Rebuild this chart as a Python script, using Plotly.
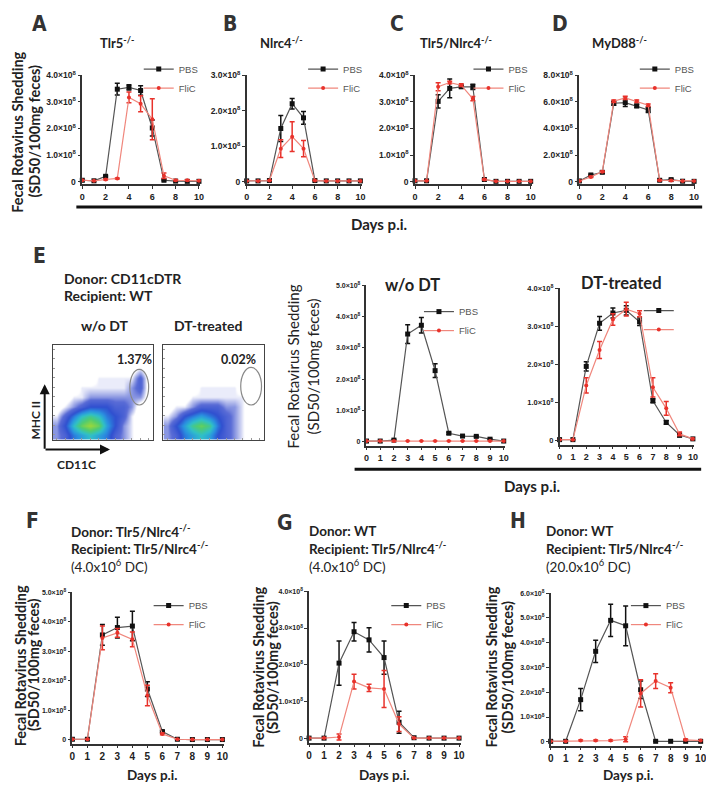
import plotly.graph_objects as go

W, H = 714, 790
days = list(range(11))

# values in units of 1e8 SD50/100mg feces
# A  Tlr5-/-
a_pbs = [0.05, 0.03, 0.2, 3.48, 3.55, 3.43, 2.02, 0.05, 0.02, 0.01, 0.01]
a_pbs_err = [0, 0, 0.03, 0.22, 0.1, 0.18, 0.3, 0.02, 0, 0, 0]
a_flic = [0.05, 0.03, 0.08, 0.12, 3.17, 2.93, 2.35, 0.22, 0.05, 0.05, 0.03]
a_flic_err = [0, 0, 0.02, 0.02, 0.2, 0.3, 0.77, 0.1, 0.02, 0.02, 0.01]
# B  Nlrc4-/-
b_pbs = [0.02, 0.02, 0.03, 1.5, 2.2, 1.8, 0.03, 0.02, 0.02, 0.02, 0.02]
b_pbs_err = [0, 0, 0, 0.37, 0.15, 0.18, 0, 0, 0, 0, 0]
b_flic = [0.02, 0.02, 0.03, 0.93, 1.27, 0.93, 0.03, 0.02, 0.02, 0.02, 0.02]
b_flic_err = [0, 0, 0, 0.25, 0.42, 0.23, 0, 0, 0, 0, 0]
# C  Tlr5/Nlrc4-/-
c_pbs = [0.03, 0.03, 3.02, 3.51, 3.57, 3.57, 0.08, 0.01, 0.01, 0.01, 0.01]
c_pbs_err = [0, 0, 0.25, 0.35, 0.05, 0.1, 0.02, 0, 0, 0, 0]
c_flic = [0.03, 0.03, 3.57, 3.73, 3.63, 3.12, 0.08, 0.01, 0.01, 0.01, 0.01]
c_flic_err = [0, 0, 0.15, 0.05, 0.05, 0.08, 0.02, 0, 0, 0, 0]
# D  MyD88-/-
d_pbs = [0.05, 0.5, 0.7, 5.9, 5.95, 5.7, 5.4, 0.1, 0.15, 0.03, 0.02]
d_pbs_err = [0, 0.05, 0.08, 0.15, 0.3, 0.12, 0.2, 0.05, 0.05, 0, 0]
d_flic = [0.05, 0.35, 0.75, 6.05, 6.3, 6.05, 5.75, 0.1, 0.08, 0.05, 0.05]
d_flic_err = [0, 0.05, 0.05, 0.1, 0.12, 0.1, 0.1, 0.03, 0.03, 0, 0]
# E  w/o DT
e1_pbs = [0.02, 0.02, 0.05, 3.44, 3.72, 2.27, 0.27, 0.18, 0.17, 0.08, 0.02]
e1_pbs_err = [0, 0, 0.02, 0.3, 0.25, 0.22, 0.03, 0.02, 0.02, 0.02, 0]
e1_flic = [0.02, 0.02, 0.02, 0.02, 0.02, 0.02, 0.02, 0.02, 0.02, 0.02, 0.02]
e1_flic_err = [0] * 11
# E  DT-treated
e2_pbs = [0.03, 0.03, 1.95, 3.08, 3.35, 3.42, 3.12, 1.05, 0.48, 0.15, 0.05]
e2_pbs_err = [0, 0, 0.12, 0.18, 0.13, 0.12, 0.1, 0.05, 0.05, 0.05, 0.02]
e2_flic = [0.03, 0.03, 1.45, 2.38, 3.18, 3.45, 3.33, 1.4, 0.85, 0.18, 0.05]
e2_flic_err = [0, 0, 0.2, 0.22, 0.15, 0.18, 0.08, 0.25, 0.18, 0.05, 0.02]
# F  donor Tlr5/Nlrc4-/- -> recipient Tlr5/Nlrc4-/-
f_pbs = [0.02, 0.02, 3.55, 3.8, 3.85, 1.72, 0.28, 0.02, 0.01, 0.01, 0.01]
f_pbs_err = [0, 0, 0.35, 0.35, 0.5, 0.25, 0.03, 0, 0, 0, 0]
f_flic = [0.02, 0.02, 3.45, 3.62, 3.4, 1.5, 0.2, 0.02, 0.01, 0.01, 0.01]
f_flic_err = [0, 0, 0.4, 0.15, 0.25, 0.35, 0.03, 0, 0, 0, 0]
# G  donor WT -> recipient Tlr5/Nlrc4-/- (4.0x10^6 DC)
g_pbs = [0.02, 0.02, 2.05, 2.9, 2.68, 2.2, 0.45, 0.03, 0.02, 0.02, 0.02]
g_pbs_err = [0, 0, 0.6, 0.25, 0.33, 0.45, 0.3, 0, 0, 0, 0]
g_flic = [0.02, 0.02, 0.05, 1.55, 1.38, 1.35, 0.4, 0.02, 0.02, 0.02, 0.02]
g_flic_err = [0, 0, 0.08, 0.2, 0.1, 0.5, 0.2, 0, 0, 0, 0]
# H  donor WT -> recipient Tlr5/Nlrc4-/- (20.0x10^6 DC)
h_pbs = [0.02, 0.02, 1.7, 3.65, 4.9, 4.68, 2.1, 0.02, 0.02, 0.02, 0.02]
h_pbs_err = [0, 0, 0.45, 0.45, 0.65, 0.8, 0.35, 0, 0, 0, 0]
h_flic = [0.02, 0.02, 0.05, 0.05, 0.05, 0.1, 1.95, 2.45, 2.18, 0.08, 0.05]
h_flic_err = [0, 0, 0.02, 0.02, 0.02, 0.1, 0.55, 0.3, 0.2, 0.03, 0]

# flow cytometry density (CD11C x MHC II), rows bottom -> top
flow_wo_dt = [
    [2, 3, 5, 6, 7, 6, 5, 3, 2, 1, 0, 0],
    [2, 4, 7, 9, 10, 9, 6, 4, 2, 1, 0, 0],
    [1, 3, 5, 7, 8, 7, 5, 4, 3, 1, 0, 0],
    [0, 1, 2, 3, 4, 4, 4, 3, 3, 2, 0, 0],
    [0, 0, 1, 1, 2, 2, 2, 2, 2, 2, 2, 0],
    [0, 0, 0, 1, 1, 1, 1, 1, 1, 2, 3, 0],
    [0, 0, 0, 0, 0, 1, 1, 1, 1, 1, 3, 0],
    [0, 0, 0, 0, 0, 0, 0, 0, 0, 0, 1, 0],
    [0, 0, 0, 0, 0, 0, 0, 0, 0, 0, 0, 0],
    [0, 0, 0, 0, 0, 0, 0, 0, 0, 0, 0, 0],
]
flow_dt = [
    [2, 3, 5, 6, 7, 6, 4, 3, 2, 1, 0, 0],
    [2, 4, 6, 8, 9, 8, 5, 3, 2, 1, 0, 0],
    [1, 2, 4, 5, 6, 5, 4, 3, 2, 1, 0, 0],
    [0, 1, 1, 2, 3, 3, 3, 2, 2, 1, 0, 0],
    [0, 0, 0, 1, 1, 1, 1, 1, 1, 1, 0, 0],
    [0, 0, 0, 0, 1, 1, 1, 1, 1, 0, 0, 0],
    [0, 0, 0, 0, 0, 0, 0, 0, 0, 0, 0, 0],
    [0, 0, 0, 0, 0, 0, 0, 0, 0, 0, 0, 0],
    [0, 0, 0, 0, 0, 0, 0, 0, 0, 0, 0, 0],
    [0, 0, 0, 0, 0, 0, 0, 0, 0, 0, 0, 0],
]

BLACK = "#111111"
RED = "#e8322b"
AX = "#333333"
SANS = "Liberation Sans"
HUM = "Lato"
OFF = 8  # the page body adds an 8px margin


def PX(x):
    return (x - OFF) / W


def PY(y):
    return 1 - (y - OFF) / H


# panel: data, pixel box, y max, y step, x tick step, legend pos, tick font sizes
panels = [
    dict(pbs=a_pbs, pe=a_pbs_err, fl=a_flic, fe=a_flic_err, box=(80, 199, 70, 180), ymax=4, step=1, xs=2, leg=(137, 49), names=True, xfs=9, yfs=8.5),
    dict(pbs=b_pbs, pe=b_pbs_err, fl=b_flic, fe=b_flic_err, box=(246, 362, 70, 180), ymax=3, step=1, xs=2, leg=(303, 49), names=True, xfs=9, yfs=8.5),
    dict(pbs=c_pbs, pe=c_pbs_err, fl=c_flic, fe=c_flic_err, box=(416, 534, 70, 180), ymax=4, step=1, xs=2, leg=(470, 49), names=True, xfs=9, yfs=8.5),
    dict(pbs=d_pbs, pe=d_pbs_err, fl=d_flic, fe=d_flic_err, box=(582, 699, 70, 180), ymax=8, step=2, xs=2, leg=(638, 49), names=True, xfs=9, yfs=8.5),
    dict(pbs=e1_pbs, pe=e1_pbs_err, fl=e1_flic, fe=e1_flic_err, box=(367, 507, 282, 444), ymax=5, step=1, xs=1, leg=(420, 294), names=True, xfs=9, yfs=7),
    dict(pbs=e2_pbs, pe=e2_pbs_err, fl=e2_flic, fe=e2_flic_err, box=(562, 698, 285, 443), ymax=4, step=1, xs=1, leg=(642, 293), names=False, xfs=9, yfs=7.5),
    dict(pbs=f_pbs, pe=f_pbs_err, fl=f_flic, fe=f_flic_err, box=(70, 223, 592, 745), ymax=5, step=1, xs=1, leg=(147, 591), names=True, xfs=10, yfs=7),
    dict(pbs=g_pbs, pe=g_pbs_err, fl=g_flic, fe=g_flic_err, box=(309, 462, 591, 744), ymax=4, step=1, xs=1, leg=(387, 591), names=True, xfs=10, yfs=7),
    dict(pbs=h_pbs, pe=h_pbs_err, fl=h_flic, fe=h_flic_err, box=(553, 706, 593, 747), ymax=6, step=1, xs=1, leg=(629, 591), names=True, xfs=10, yfs=7),
]

fig = go.Figure()
layout = {}

for i, p in enumerate(panels):
    n = i + 1
    sx = "" if n == 1 else str(n)
    leg = "legend" if n == 1 else f"legend{n}"
    x0, x1, y0, y1 = p["box"]
    for vals, errs, color, lcolor, sym, size, name in [
        (p["pbs"], p["pe"], BLACK, "#555555", "square", 5, "PBS"),
        (p["fl"], p["fe"], RED, "#f0877d", "circle", 4, "FliC"),
    ]:
        fig.add_trace(go.Scatter(
            x=days, y=vals, mode="lines+markers",
            name=name if p["names"] else " ",
            line=dict(color=lcolor, width=1.2),
            marker=dict(color=color, symbol=sym, size=size),
            error_y=dict(type="data", array=errs, color=color, thickness=1.5, width=2.5),
            xaxis="x" + sx, yaxis="y" + sx, legend=leg, cliponaxis=False,
        ))
    ymax = p["ymax"]
    yt = list(range(0, ymax + 1, p["step"]))
    ytext = ["0" if v == 0 else f"{v:.1f}×10<sup>8</sup>" for v in yt]
    layout["xaxis" + sx] = dict(
        domain=[PX(x0), PX(x1)], range=[0, 10.1], anchor="y" + sx,
        tickvals=list(range(0, 11, p["xs"])), ticks="outside", ticklen=3,
        tickwidth=1.2, tickcolor=AX, showline=True, linecolor=AX, linewidth=1.5,
        showgrid=False, zeroline=False,
        tickfont=dict(family=SANS, size=p["xfs"], color="#222", weight="bold"),
    )
    layout["yaxis" + sx] = dict(
        domain=[PY(y1), PY(y0)], range=[-ymax * 0.025, ymax], anchor="x" + sx,
        tickvals=yt, ticktext=ytext, ticks="outside", ticklen=3, tickwidth=1.2,
        tickcolor=AX, showline=True, linecolor=AX, linewidth=1.5,
        showgrid=False, zeroline=False,
        tickfont=dict(family=SANS, size=p["yfs"], color="#222", weight="bold"),
    )
    lx, ly = p["leg"]
    layout[leg] = dict(
        x=PX(lx), y=PY(ly), xanchor="left", yanchor="top",
        bgcolor="rgba(0,0,0,0)", borderwidth=0, itemwidth=30,
        font=dict(family=SANS, size=9.5, color="#555"),
    )

# flow cytometry panels
flow_cs = [
    [0.0, "#ffffff"], [0.08, "#ffffff"], [0.12, "#d4d8f4"], [0.25, "#5a6cd6"],
    [0.4, "#3050d0"], [0.55, "#2a90e0"], [0.7, "#30c0c8"], [0.85, "#50cc70"],
    [1.0, "#9cd83a"],
]
for k, (z, box) in enumerate([(flow_wo_dt, (50, 151, 342, 438)), (flow_dt, (162, 263, 342, 438))]):
    n = 10 + k
    fig.add_trace(go.Heatmap(
        z=z, colorscale=flow_cs, zmin=0, zmax=10, zsmooth="best",
        showscale=False, xaxis=f"x{n}", yaxis=f"y{n}", hoverinfo="skip",
    ))
    x0, x1, y0, y1 = box
    common = dict(showline=True, mirror=True, linecolor="#444", linewidth=1,
                  showgrid=False, zeroline=False, showticklabels=False,
                  ticks="inside", ticklen=2, tickcolor="#999")
    layout[f"xaxis{n}"] = dict(domain=[PX(x0), PX(x1)], range=[-0.5, 11.5],
                               anchor=f"y{n}", dtick=1, **common)
    layout[f"yaxis{n}"] = dict(domain=[PY(y1), PY(y0)], range=[-0.5, 9.5],
                               anchor=f"x{n}", dtick=1, **common)

shapes = [
    dict(type="line", xref="paper", yref="paper", x0=PX(74), x1=PX(706),
         y0=PY(203), y1=PY(203), line=dict(color="#111", width=3)),
    dict(type="line", xref="paper", yref="paper", x0=PX(355), x1=PX(705),
         y0=PY(468), y1=PY(468), line=dict(color="#111", width=3)),
    dict(type="circle", xref="paper", yref="paper", x0=PX(128), x1=PX(147),
         y0=PY(403), y1=PY(367), line=dict(color="#888", width=1.2)),
    dict(type="circle", xref="paper", yref="paper", x0=PX(240), x1=PX(261),
         y0=PY(403), y1=PY(365), line=dict(color="#888", width=1.2)),
]

ann = []


def text(s, x, y, size, family=HUM, bold=False, anchor="center", angle=0, color="#222"):
    ann.append(dict(
        text=f"<b>{s}</b>" if bold else s, x=PX(x), y=PY(y), xref="paper", yref="paper",
        xanchor=anchor, yanchor="middle", showarrow=False, textangle=angle,
        font=dict(family=family, size=size, color=color),
    ))


LETTER = "DejaVu Sans Condensed"
for s, x, y in [("A", 37, 18), ("B", 229, 18), ("C", 398, 18), ("D", 562, 18),
                ("E", 37, 252), ("F", 30, 520), ("G", 285, 522), ("H", 520, 520)]:
    text(s, x, y, 21, family=LETTER, bold=True, color="#333")

text("Tlr5<sup>-/-</sup>", 115, 37, 13, bold=True)
text("Nlrc4<sup>-/-</sup>", 281, 37, 13, bold=True)
text("Tlr5/Nlrc4<sup>-/-</sup>", 457, 37, 13, bold=True)
text("MyD88<sup>-/-</sup>", 623, 37, 13, bold=True)

ylab1 = "Fecal Rotavirus Shedding"
ylab2 = "(SD50/100mg feces)"
# (x of line 1, x of line 2, y centre, size, bold)
for xa, xb, yc, fs, bold in [(15, 32, 127, 14.5, True), (293, 313, 364, 15, False),
                              (17, 31, 666, 14.5, True), (258, 272, 668, 14.5, True),
                              (493, 509, 668, 14.5, True)]:
    text(ylab1, xa, yc, fs, bold=bold, angle=-90)
    text(ylab2, xb, yc, fs, bold=bold, angle=-90)

text("Days p.i.", 380, 220, 15, bold=True)
text("Days p.i.", 534, 485, 15, bold=True)
text("Days p.i.", 150, 777, 13.5, bold=True)
text("Days p.i.", 385, 777, 13.5, bold=True)
text("Days p.i.", 631, 777, 13.5, bold=True)

text("Donor: CD11cDTR", 60, 275, 14, bold=True, anchor="left")
text("Recipient: WT", 60, 292, 14, bold=True, anchor="left")
text("w/o DT", 102, 323, 14, bold=True)
text("DT-treated", 207, 323, 14, bold=True)
text("1.37%", 133, 357, 12.5, bold=True)
text("0.02%", 238, 357, 12.5, bold=True)
text("MHC II", 33, 418, 12, bold=True, angle=-90)
text("CD11C", 74, 463, 12, bold=True)
text("w/o DT", 413, 282, 16.5, bold=True)
text("DT-treated", 625, 280, 16.5, bold=True)

for x, lines in [(67, ["Tlr5/Nlrc4<sup>-/-</sup>", "Tlr5/Nlrc4<sup>-/-</sup>", "4.0x10<sup>6</sup>"]),
                 (307, ["WT", "Tlr5/Nlrc4<sup>-/-</sup>", "4.0x10<sup>6</sup>"]),
                 (546, ["WT", "Tlr5/Nlrc4<sup>-/-</sup>", "20.0x10<sup>6</sup>"])]:
    text("Donor: " + lines[0], x, 530, 13.5, bold=True, anchor="left")
    text("Recipient: " + lines[1], x, 547, 13.5, bold=True, anchor="left")
    text("(" + lines[2] + " DC)", x, 566, 13.5, anchor="left")

# flow axes arrows (tail at the corner, head at the tip)
for hx, hy in [(42, 382), (108, 448)]:
    ann.append(dict(
        x=PX(hx), y=PY(hy), ax=42 - hx, ay=448 - hy, xref="paper", yref="paper",
        axref="pixel", ayref="pixel", text="", showarrow=True, arrowhead=2,
        arrowsize=1, arrowwidth=2, arrowcolor="#111", standoff=0, startstandoff=0,
    ))

fig.update_layout(
    width=W, height=H, margin=dict(l=0, r=0, t=0, b=0),
    paper_bgcolor="white", plot_bgcolor="rgba(0,0,0,0)",
    annotations=ann, shapes=shapes, **layout,
)

fig.write_html("out.html")
